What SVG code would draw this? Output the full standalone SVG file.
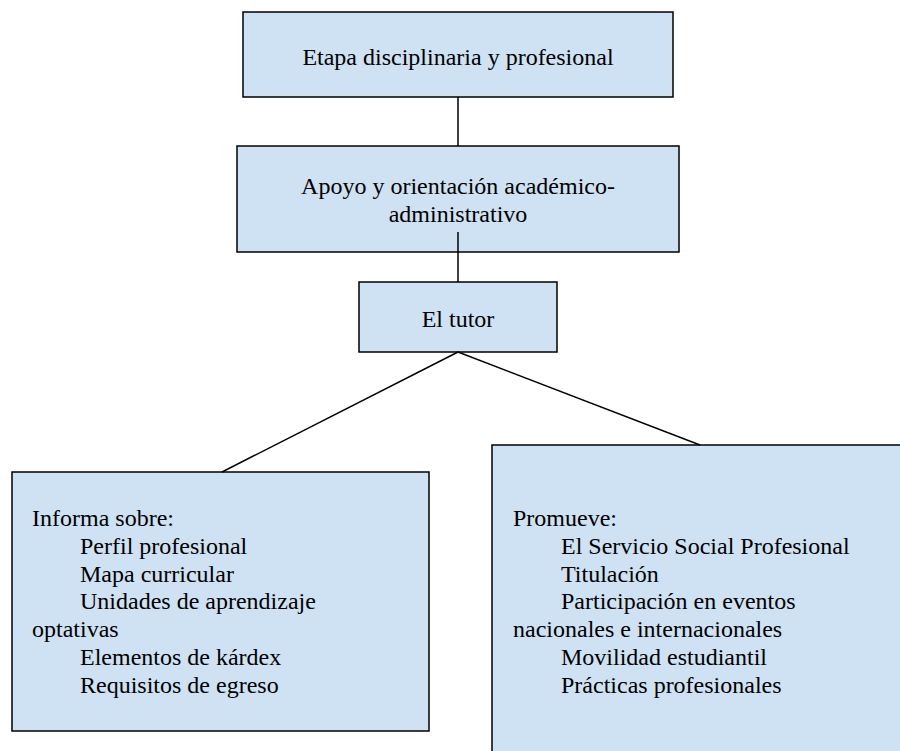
<svg xmlns="http://www.w3.org/2000/svg" width="900" height="751" viewBox="0 0 900 751">
<style>
.box{fill:#cfe2f3;stroke:#000;stroke-width:1.5}
text{font-family:'Liberation Serif','Times New Roman',Times,serif;font-size:24px;fill:#000}
.c{text-anchor:middle}
.ln{stroke:#000;stroke-width:1.5;fill:none}
</style>
<rect width="900" height="751" fill="#fff"/>
<g id="n1">
<rect class="box" x="243" y="12" width="430" height="85"/>
<text class="c" x="458" y="65">Etapa disciplinaria y profesional</text>
</g>
<g id="n2">
<rect class="box" x="237" y="146" width="442" height="106"/>
<text class="c" x="458" y="194">Apoyo y orientación académico-</text>
<text class="c" x="458" y="222">administrativo</text>
</g>
<g id="n3">
<rect class="box" x="359" y="282" width="198" height="70"/>
<text class="c" x="458" y="327">El tutor</text>
</g>
<g id="n4">
<rect class="box" x="12" y="472" width="417" height="259"/>
<text x="32" y="526">Informa sobre:</text>
<text x="80" y="553.8">Perfil profesional</text>
<text x="80" y="581.6">Mapa curricular</text>
<text x="80" y="609.4">Unidades de aprendizaje</text>
<text x="32" y="637.2">optativas</text>
<text x="80" y="665">Elementos de kárdex</text>
<text x="80" y="692.8">Requisitos de egreso</text>
</g>
<g id="n5">
<rect class="box" x="492" y="445" width="420" height="320"/>
<text x="513" y="526">Promueve:</text>
<text x="561" y="553.8">El Servicio Social Profesional</text>
<text x="561" y="581.6">Titulación</text>
<text x="561" y="609.4">Participación en eventos</text>
<text x="513" y="637.2">nacionales e internacionales</text>
<text x="561" y="665">Movilidad estudiantil</text>
<text x="561" y="692.8">Prácticas profesionales</text>
</g>
<g id="connectors">
<line class="ln" x1="458" y1="97" x2="458" y2="146"/>
<line class="ln" x1="458" y1="232" x2="458" y2="282"/>
<line class="ln" x1="458" y1="352" x2="222" y2="472"/>
<line class="ln" x1="458" y1="352" x2="700" y2="445"/>
</g>
</svg>
